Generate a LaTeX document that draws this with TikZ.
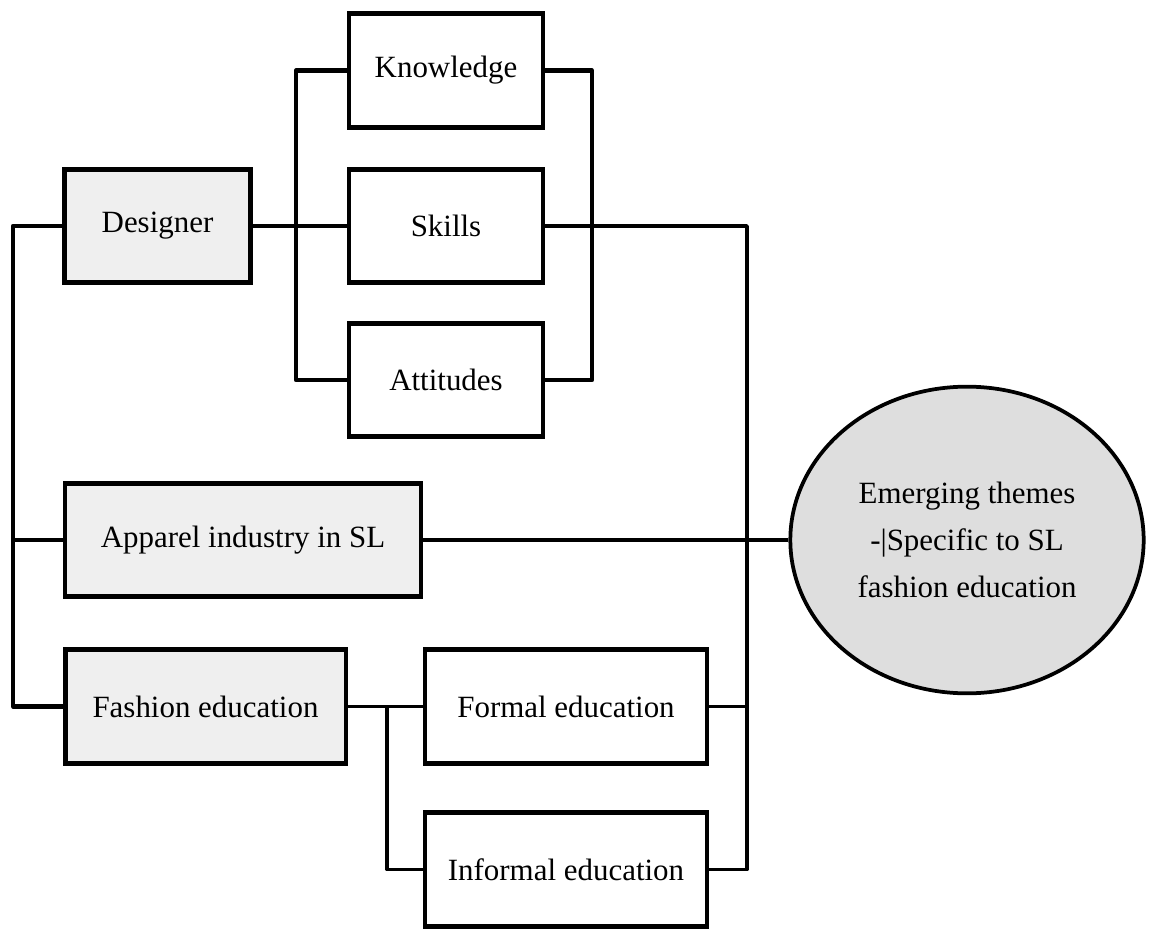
\documentclass[tikz,border=0pt]{standalone}
\usepackage{fontspec}
\setmainfont{Liberation Serif}
\usepackage{tikz}
\usetikzlibrary{positioning,shapes.geometric,calc}
\usepackage{xcolor}
\definecolor{boxgray}{RGB}{239,239,239}
\definecolor{themegray}{RGB}{222,222,222}

\begin{document}
\begin{tikzpicture}[
  x=0.15mm, y=-0.15mm,
  block/.style={rectangle, draw=black, line width=2pt, fill=white,
    minimum height=17.0mm, align=center, inner sep=2pt,
    font=\fontsize{13.2}{20}\selectfont},
  topic/.style={block, fill=boxgray},
  theme/.style={ellipse, draw=black, line width=1.6pt, fill=themegray,
    minimum width=53.0mm, minimum height=46.0mm, inner sep=0pt,
    align=center, font=\fontsize{13.2}{20}\selectfont},
  conn/.style={line width=1.5pt, draw=black, line join=round},
  bus/.style={conn, line width=1.8pt}
]
\useasboundingbox (0,0) rectangle (1149,929);

% Topics
\node[topic, minimum width=27.8mm] (designer) at (157.5,226) {Designer};
\node[topic, minimum width=53.4mm] (apparel) at (243,540) {Apparel industry in SL};
\node[topic, minimum width=42.1mm] (fashion) at (205.5,706.5) {Fashion education};

% Designer attributes
\node[block, minimum width=29.1mm] (know) at (446,70.5) {Knowledge};
\node[block, minimum width=29.1mm] (skills) at (446,226) {Skills};
\node[block, minimum width=29.1mm] (att) at (446,380) {Attitudes};

% Education types
\node[block, minimum width=42.3mm] (formal) at (566,706.5) {Formal education};
\node[block, minimum width=42.3mm] (informal) at (566,869.5) {Informal education};

% Outcome
\node[theme] (themes) at (967,540)
  {Emerging themes\\-|Specific to SL\\fashion education};

% Bus lines
\coordinate (lx) at (13,0);
\coordinate (kx) at (296,0);
\coordinate (rx) at (592,0);
\coordinate (ex) at (387,0);
\coordinate (bx) at (747,0);

% Connectors
\draw[bus] (designer.west) -- (designer.west -| lx) -- (fashion.west -| lx)
  -- (fashion.west);
\draw[bus] (apparel.west) -- (apparel.west -| lx);
\draw[conn] (designer.east) -- (skills.west);
\draw[bus] (know.west) -- (know.west -| kx) -- (att.west -| kx) -- (att.west);
\draw[bus] (know.east) -- (know.east -| rx) -- (att.east -| rx) -- (att.east);
\draw[conn] (skills.east) -- (skills.east -| bx) -- (informal.east -| bx)
  -- (informal.east);
\draw[conn] (formal.east) -- (formal.east -| bx);
\draw[conn] (apparel.east) -- (themes.west);
\draw[conn] (fashion.east) -- (formal.west);
\draw[conn] (fashion.east -| ex) -- (informal.west -| ex) -- (informal.west);
\end{tikzpicture}
\end{document}
